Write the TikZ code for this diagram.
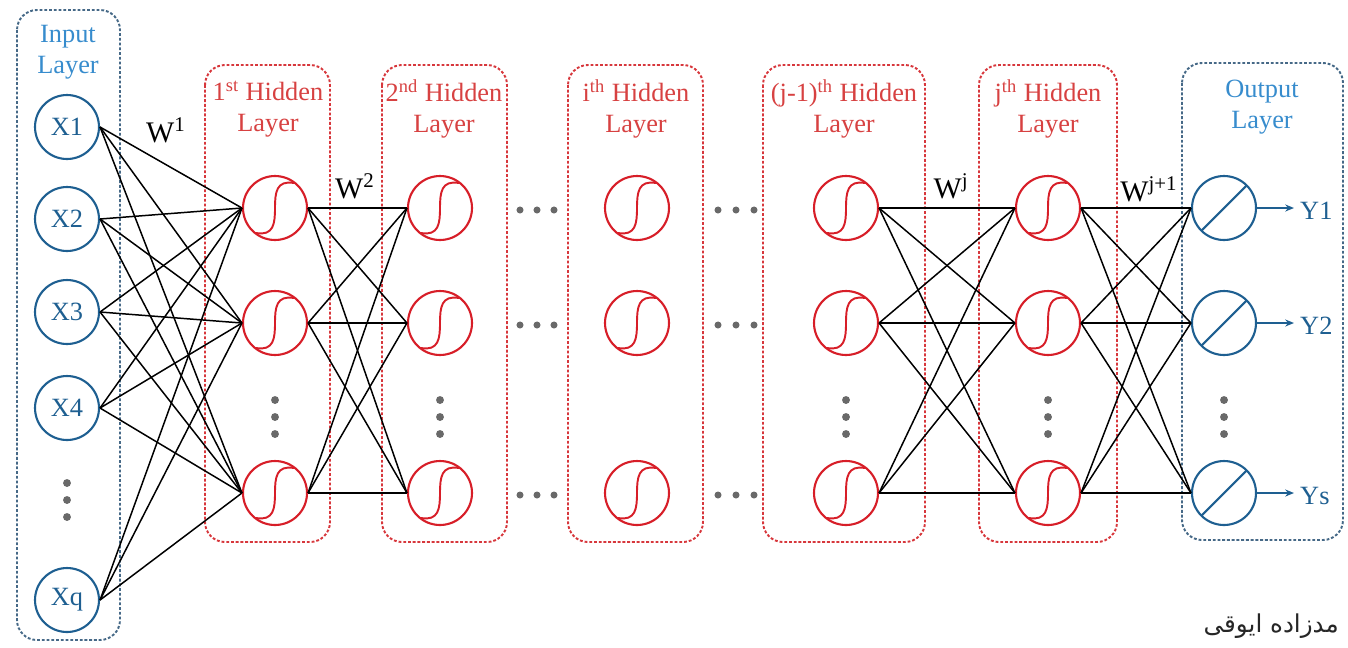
\documentclass[tikz,border=0pt]{standalone}
\usepackage{fontspec}
\setmainfont{Liberation Serif}
\newfontfamily\arabicfont[Script=Arabic]{DejaVu Sans}
\TeXXeTstate=1
\usetikzlibrary{arrows.meta}

\definecolor{inblue}{RGB}{30,95,145}
\definecolor{hdrblue}{RGB}{55,140,205}
\definecolor{boxblue}{RGB}{70,105,135}
\definecolor{hidred}{RGB}{215,30,40}
\definecolor{hdrred}{RGB}{215,65,65}
\definecolor{boxred}{RGB}{215,55,60}
\definecolor{dotgray}{RGB}{105,105,105}

\begin{document}
\begin{tikzpicture}[x=0.02cm,y=-0.02cm,
  layerbox/.style={rounded corners=0.4cm,line width=1.1pt,dash pattern=on 1.6pt off 1.1pt},
  neuron/.style={circle,line width=1.2pt,minimum size=1.28cm,inner sep=0pt},
  inneuron/.style={neuron,draw=inblue,text=inblue,font=\fontsize{15}{15}\selectfont},
  hidneuron/.style={neuron,draw=hidred,
    path picture={\draw[hidred,line width=1.1pt,x=1cm,y=1cm,
        shift={(path picture bounding box.center)}]
      (-0.38,-0.5) .. controls (-0.03,-0.56) and (0,-0.32) .. (0,0)
      .. controls (0,0.32) and (0.03,0.56) .. (0.38,0.5);}},
  outneuron/.style={neuron,draw=inblue,
    path picture={\draw[inblue,line width=1.2pt]
      ([shift={(225:0.64cm)}]path picture bounding box.center) --
      ([shift={(45:0.64cm)}]path picture bounding box.center);}},
  hdr/.style={align=center,font=\fontsize{15}{17.5}\selectfont},
  wlabel/.style={font=\fontsize{17}{17}\selectfont,text=black},
  ylabel/.style={anchor=west,text=inblue,font=\fontsize{15}{15}\selectfont},
  conn/.style={black,line width=0.85pt},
  vdot/.style={circle,fill=dotgray,inner sep=0pt,minimum size=4.5pt},
  hdot/.style={circle,fill=dotgray,inner sep=0pt,minimum size=4pt}
]
\useasboundingbox (0,0) rectangle (1348,647);

% layer frames
\draw[layerbox,draw=boxblue] (17,10) rectangle (120,640);
\draw[layerbox,draw=boxred] (205,65) rectangle (330,542);
\draw[layerbox,draw=boxred] (382,65) rectangle (507,542);
\draw[layerbox,draw=boxred] (568,65) rectangle (703,542);
\draw[layerbox,draw=boxred] (763,65) rectangle (925,542);
\draw[layerbox,draw=boxred] (979,65) rectangle (1117,542);
\draw[layerbox,draw=boxblue] (1182,63) rectangle (1343,540);

% layer titles
\node[hdr,text=hdrblue] (tin) at (68,52) {Input\\Layer};
\node[hdr,text=hdrred] (ta) at (268,109) {1\textsuperscript{st} Hidden\\Layer};
\node[hdr,text=hdrred] (tb) at (444,109) {2\textsuperscript{nd} Hidden\\Layer};
\node[hdr,text=hdrred] (ti) at (636,109) {i\textsuperscript{th} Hidden\\Layer};
\node[hdr,text=hdrred] (tjm) at (844,109) {(j-1)\textsuperscript{th} Hidden\\Layer};
\node[hdr,text=hdrred] (tj) at (1048,109) {j\textsuperscript{th} Hidden\\Layer};
\node[hdr,text=hdrblue] (tout) at (1262,107) {Output\\Layer};

% input neurons
\node[inneuron] (x1) at (67,127) {X1};
\node[inneuron] (x2) at (67,219) {X2};
\node[inneuron] (x3) at (67,312) {X3};
\node[inneuron] (x4) at (67,408) {X4};
\node[inneuron] (xq) at (67,600) {Xq};
\foreach \yy [count=\k] in {483,500,517}
  \node[vdot] (xd\k) at (67,\yy) {};

% hidden neurons
\foreach \name/\xx in {ha/275,hb/440,hi/637,hm/846,hj/1048}{
  \node[hidneuron] (\name1) at (\xx,208) {};
  \node[hidneuron] (\name2) at (\xx,323) {};
  \node[hidneuron] (\name3) at (\xx,493) {};
}
\foreach \name/\xx in {ha/275,hb/440,hm/846,hj/1048}
  \foreach \yy [count=\k] in {400,417,434}
    \node[vdot] (\name d\k) at (\xx,\yy) {};

% output neurons
\node[outneuron] (o1) at (1224,208) {};
\node[outneuron] (o2) at (1224,323) {};
\node[outneuron] (o3) at (1224,493) {};
\foreach \yy [count=\k] in {400,417,434}
  \node[vdot] (od\k) at (1224,\yy) {};

% ellipses between the skipped layers
\foreach \yy [count=\r] in {210,325,495}{
  \foreach \xx [count=\k] in {520,537,554}
    \node[hdot] (ea\r\k) at (\xx,\yy) {};
  \foreach \xx [count=\k] in {718,736,754}
    \node[hdot] (eb\r\k) at (\xx,\yy) {};
}

% weights
\foreach \a in {x1,x2,x3,x4,xq}
  \foreach \b in {ha1,ha2,ha3}
    \draw[conn] (\a.east) -- (\b.west);
\foreach \a in {1,2,3}
  \foreach \b in {1,2,3}{
    \draw[conn] (ha\a.east) -- (hb\b.west);
    \draw[conn] (hm\a.east) -- (hj\b.west);
    \draw[conn] (hj\a.east) -- (o\b.west);
  }

% weight labels
\node[wlabel] (w1) at (166,130) {W\textsuperscript{1}};
\node[wlabel] (w2) at (355,186) {W\textsuperscript{2}};
\node[wlabel] (wj) at (951,186) {W\textsuperscript{j}};
\node[wlabel] (wj1) at (1149,189) {W\textsuperscript{j+1}};

% outputs
\node[ylabel] (y1) at (1294,211) {Y1};
\node[ylabel] (y2) at (1294,326) {Y2};
\node[ylabel] (ys) at (1294,496) {Ys};
\foreach \k/\y in {1/y1,2/y2,3/ys}
  \draw[inblue,line width=1pt,-{Stealth[length=5pt,width=4pt]}]
    (o\k.east) -- (o\k.east -| \y.west);

% credit line
\node[anchor=east,font=\arabicfont\fontsize{14}{14}\selectfont,text=black!85] (credit)
  at (1345,626) {\beginR مدزاده ایوقی\endR};
\end{tikzpicture}
\end{document}
